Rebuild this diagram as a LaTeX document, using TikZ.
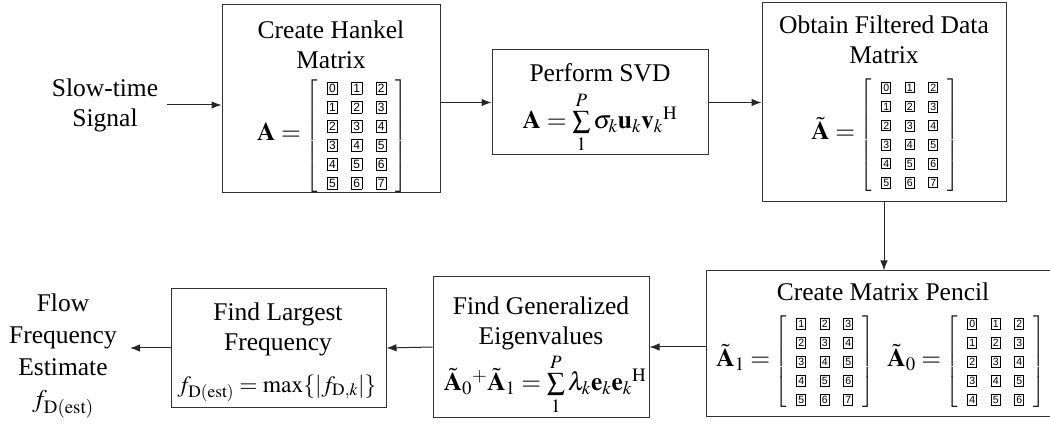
\documentclass[tikz,border=0pt]{standalone}
\usepackage{mathptmx}
\usepackage{fontspec}
\setmainfont{Liberation Serif}
\newfontfamily\labelfont{Liberation Serif}
\newfontfamily\digitfont{Liberation Sans}
\usetikzlibrary{arrows.meta}

% boxed sample index, plain and filtered
\newcommand{\dg}[1]{{\setlength{\fboxsep}{1.4pt}\setlength{\fboxrule}{0.7pt}\fbox{\fontsize{12}{12}\digitfont #1}}}
\newcommand{\fdg}[1]{{\setlength{\fboxsep}{1.2pt}\setlength{\fboxrule}{0.9pt}\fbox{\fontsize{10.5}{10.5}\digitfont #1}}}
\newcommand{\bmat}[1]{\mbox{\fontsize{17}{19}\selectfont$\left[\begin{array}{@{\hspace{9pt}}c@{\hspace{13.5pt}}c@{\hspace{13.5pt}}c@{\hspace{9pt}}}#1\end{array}\right]$}}

\begin{document}
\begin{tikzpicture}[x=1pt,y=-1pt,
    blk/.style={draw=black!80,line width=1pt,inner sep=0pt},
    txt/.style={align=center,inner sep=3pt,font=\labelfont\fontsize{25.5}{30}\selectfont},
    arr/.style={-{Latex[length=10pt,width=7.5pt]},line width=1pt,draw=black!85}]
  \useasboundingbox (0,0) rectangle (1050,430);

  % blocks
  \node[blk,minimum width=218pt,minimum height=188pt] (hankel) at (331,99) {};
  \node[blk,minimum width=216pt,minimum height=105pt] (svd) at (600,102.5) {};
  \node[blk,minimum width=244pt,minimum height=199pt] (filt) at (884,102.5) {};
  \node[blk,minimum width=364pt,minimum height=145pt] (pencil) at (888,343.5) {};
  \node[blk,minimum width=216pt,minimum height=140pt] (eigen) at (541,347) {};
  \node[blk,minimum width=215pt,minimum height=118pt] (largest) at (278.5,348) {};

  % input and output
  \node[txt] (slow) at (105,105) {Slow-time\\Signal};
  \node[txt,font=\labelfont\fontsize{25.5}{32}\selectfont] (flow) at (63,356) {Flow\\Frequency\\Estimate\\$f_{\mathrm{D(est)}}$};

  % block texts
  \node[txt] (hankeltitle) at (331,45) {Create Hankel\\Matrix};
  \node[txt] (hankelmat) at (332,136) {$\mathbf{A} = \bmat{
      \dg0&\dg1&\dg2\\ \dg1&\dg2&\dg3\\ \dg2&\dg3&\dg4\\
      \dg3&\dg4&\dg5\\ \dg4&\dg5&\dg6\\ \dg5&\dg6&\dg7}$};

  \node[txt] (svdtitle) at (600,73) {Perform SVD};
  \node[txt] (svdeq) at (600,122) {$\mathbf{A} = \sum\limits_1^P\sigma_k\mathbf{u}_k\mathbf{v}_k{}^{\mathrm{H}}$};

  \node[txt] (filttitle) at (884,40) {Obtain Filtered Data\\Matrix};
  \node[txt] (filtmat) at (885,135) {$\tilde{\mathbf{A}} = \bmat{
      \fdg0&\fdg1&\fdg2\\ \fdg1&\fdg2&\fdg3\\ \fdg2&\fdg3&\fdg4\\
      \fdg3&\fdg4&\fdg5\\ \fdg4&\fdg5&\fdg6\\ \fdg5&\fdg6&\fdg7}$};

  \node[txt] (penciltitle) at (883,292) {Create Matrix Pencil};
  \node[txt] (pencilone) at (795,362) {$\tilde{\mathbf{A}}_1 = \bmat{
      \fdg1&\fdg2&\fdg3\\ \fdg2&\fdg3&\fdg4\\ \fdg3&\fdg4&\fdg5\\
      \fdg4&\fdg5&\fdg6\\ \fdg5&\fdg6&\fdg7}$};
  \node[txt] (pencilzero) at (966,362) {$\tilde{\mathbf{A}}_0 = \bmat{
      \fdg0&\fdg1&\fdg2\\ \fdg1&\fdg2&\fdg3\\ \fdg2&\fdg3&\fdg4\\
      \fdg3&\fdg4&\fdg5\\ \fdg4&\fdg5&\fdg6}$};

  \node[txt] (eigentitle) at (541,323) {Find Generalized\\Eigenvalues};
  \node[txt] (eigeneq) at (545,384) {$\tilde{\mathbf{A}}_0{}^{+}\tilde{\mathbf{A}}_1 = \sum\limits_1^P\lambda_k\mathbf{e}_k\mathbf{e}_k{}^{\mathrm{H}}$};

  \node[txt] (largesttitle) at (278,329) {Find Largest\\Frequency};
  \node[txt,font=\labelfont\fontsize{23.5}{28}\selectfont] (largesteq) at (277,388) {$\thickmuskip=4mu f_{\mathrm{D(est)}} = \max\{|f_{\mathrm{D},k}|\}$};

  % connectors
  \draw[arr,shorten <=6pt] (slow.east) -- (slow.east -| hankel.west);
  \draw[arr] (hankel.east |- svd.west) -- (svd.west);
  \draw[arr] (svd.east) -- (filt.west);
  \draw[arr] (filt.south) -- (filt.south |- pencil.north);
  \draw[arr] (pencil.west |- eigen.east) -- (eigen.east);
  \draw[arr] (eigen.west) -- (largest.east);
  \draw[arr,shorten >=10pt] (largest.west) -- (largest.west -| flow.east);
\end{tikzpicture}
\end{document}
